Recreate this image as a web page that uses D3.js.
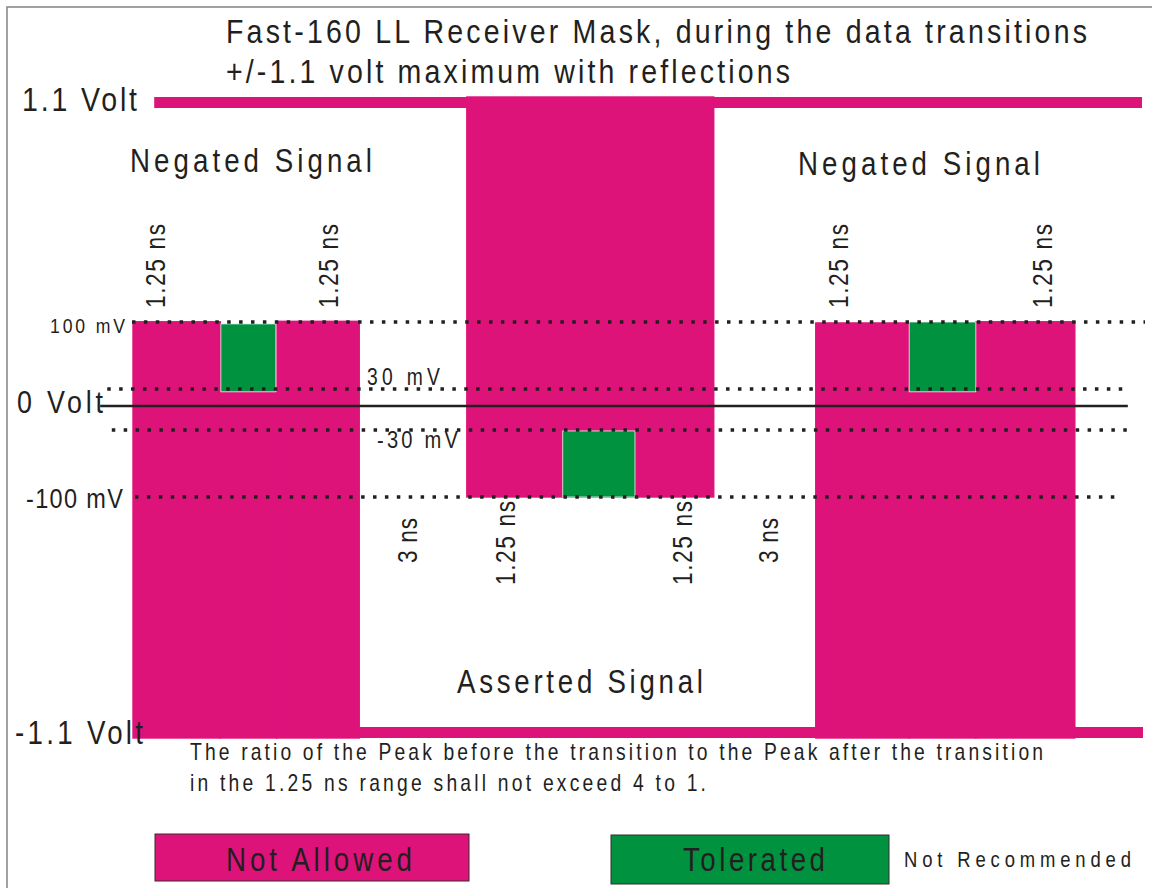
<!DOCTYPE html>
<html>
<head>
<meta charset="utf-8">
<script src="https://cdn.jsdelivr.net/npm/d3@7"></script>
<style>
  html, body { margin: 0; padding: 0; background: #fff; }
  svg { display: block; }
  text { font-family: "Liberation Sans", Arial, sans-serif; fill: #231f20; }
</style>
</head>
<body>
<div id="chart"></div>
<script>
// voltage levels of the mask (mV) - the drawing is not to scale, so the y scale is piecewise
var levels = [-1100, -100, -30, 0, 30, 100, 1100];

// not allowed (pink) areas : time in ns-ish units, voltage in mV
var notAllowed = [
  { t0: 0.00,  t1: 1.73,  v0: 101,  v1: -1100 },
  { t0: 1.73,  t1: 2.85,  v0: 25,   v1: -1100 },
  { t0: 2.85,  t1: 4.48,  v0: 103,  v1: -1100 },
  { t0: 6.61,  t1: 11.50, v0: 1100, v1: -100 },
  { t0: 13.52, t1: 15.37, v0: 99,   v1: -1100 },
  { t0: 15.37, t1: 16.69, v0: 25,   v1: -1100 },
  { t0: 16.69, t1: 18.65, v0: 101,  v1: -1100 }
];

// tolerated / not recommended (green) areas
var tolerated = [
  { t0: 1.74,  t1: 2.83,  v0: 98,  v1: 25 },
  { t0: 8.51,  t1: 9.94,  v0: -31, v1: -100 },
  { t0: 15.37, t1: 16.69, v0: 100, v1: 25 }
];

// +/-1.1 volt rails
var rails = [
  { v: 1100,  t0: 0.42, t1: 19.98 },
  { v: -1100, t0: 0.14, t1: 20.00 }
];

// dotted threshold lines
var thresholds = [
  { v: 100,  t0: -0.02, t1: 20.04 },
  { v: 30,   t0: -0.51, t1: 19.74 },
  { v: -30,  t0: -0.42, t1: 19.84 },
  { v: -100, t0: 0.04,  t1: 19.58 }
];
var zeroLine = { v: 0, t0: -0.65, t1: 19.70 };

// timing labels (rotated)
var timing = [
  { t: 0.63,  text: "1.25 ns", v: 100 },
  { t: 4.06,  text: "1.25 ns", v: 100 },
  { t: 5.62,  text: "3 ns",    v: -100 },
  { t: 7.56,  text: "1.25 ns", v: -100 },
  { t: 11.07, text: "1.25 ns", v: -100 },
  { t: 12.77, text: "3 ns",    v: -100 },
  { t: 14.16, text: "1.25 ns", v: 100 },
  { t: 18.20, text: "1.25 ns", v: 100 }
];

var width = 1152,
    height = 888;

var pink = "#de137a",
    green = "#00923f";

var x = d3.scaleLinear().domain([0, 20]).range([133, 1143]);
var y = d3.scaleLinear().domain(levels).range([738, 497, 430, 406, 389, 322, 97]);

var svg = d3.select("#chart").append("svg")
  .attr("width", width)
  .attr("height", height);

// frame (runs off the page on the right/bottom)
svg.append("rect")
  .attr("x", 7).attr("y", 7)
  .attr("width", 1200).attr("height", 1000)
  .style("fill", "none")
  .style("stroke", "#8a8a8a")
  .style("stroke-width", 1.6);

// narrow-looking text: squeeze glyphs, keep total width
var squeeze = 0.84;
function label(text, px, py, size, len, g) {
  return (g || svg).append("text")
    .attr("transform", "translate(" + px + "," + py + ") scale(" + squeeze + ",1)")
    .attr("textLength", len / squeeze)
    .attr("lengthAdjust", "spacing")
    .style("font-size", size + "px")
    .text(text);
}

// rails
var railW = 11;
svg.selectAll("rect.rail").data(rails).enter().append("rect")
  .attr("class", "rail")
  .attr("x", function(d) { return x(d.t0); })
  .attr("width", function(d) { return x(d.t1) - x(d.t0); })
  .attr("y", function(d) { return d.v > 0 ? y(d.v) : y(d.v) - railW; })
  .attr("height", railW)
  .style("fill", pink);

// not allowed blocks (stroke hides the seams between neighbours)
svg.selectAll("rect.na").data(notAllowed).enter().append("rect")
  .attr("class", "na")
  .attr("x", function(d) { return x(d.t0); })
  .attr("width", function(d) { return x(d.t1) - x(d.t0); })
  .attr("y", function(d) { return y(d.v0); })
  .attr("height", function(d) { return y(d.v1) - y(d.v0); })
  .style("fill", pink)
  .style("stroke", pink)
  .style("stroke-width", 1.4);

// tolerated blocks
svg.selectAll("rect.tol").data(tolerated).enter().append("rect")
  .attr("class", "tol")
  .attr("x", function(d) { return x(d.t0); })
  .attr("width", function(d) { return x(d.t1) - x(d.t0); })
  .attr("y", function(d) { return y(d.v0); })
  .attr("height", function(d) { return y(d.v1) - y(d.v0); })
  .style("fill", green)
  .style("stroke", "#e9f4ec")
  .style("stroke-width", 0.8);

// dotted lines
svg.selectAll("line.th").data(thresholds).enter().append("line")
  .attr("class", "th")
  .attr("x1", function(d) { return x(d.t0); })
  .attr("x2", function(d) { return x(d.t1); })
  .attr("y1", function(d) { return y(d.v); })
  .attr("y2", function(d) { return y(d.v); })
  .style("stroke", "#231f20")
  .style("stroke-width", 3.5)
  .style("stroke-dasharray", "3.5 8.4");

svg.append("line")
  .attr("x1", x(zeroLine.t0)).attr("x2", x(zeroLine.t1))
  .attr("y1", y(zeroLine.v)).attr("y2", y(zeroLine.v))
  .style("stroke", "#231f20")
  .style("stroke-width", 2.5);

// titles
label("Fast-160 LL Receiver Mask, during the data transitions", 226, 43, 34, 861);
label("+/-1.1 volt maximum with reflections", 226, 83, 34, 564);

// volt labels
label("1.1 Volt", 22, 111, 34, 115);
label("0 Volt", 17, 413, 32, 86);
label("-1.1 Volt", 15, 744, 33, 128);

// mV labels
label("100 mV", 50, y(100) + 11, 21, 75);
label("30 mV", 367, y(30) - 4, 23, 73);
label("-30 mV", 377, y(-30) + 18, 24, 81);
label("-100 mV", 26, y(-100) + 11, 28, 97);

// region names
label("Negated Signal", 130, 172, 33, 242);
label("Negated Signal", 798, 175, 33, 242);
label("Asserted Signal", 457, 693, 33, 246);

// timing labels
timing.forEach(function(d) {
  var len = d.text === "3 ns" ? 45 : 84;
  var start = d.v > 0 ? y(d.v) - 14 : y(d.v) + (d.text === "3 ns" ? 66 : 88);
  var g = svg.append("g")
    .attr("transform", "translate(" + (x(d.t)) + "," + start + ") rotate(-90)");
  label(d.text, 0, 0, 27, len, g);
});

// note
label("The ratio of the Peak before the transition to the Peak after the transition", 190, 760, 23, 853);
label("in the 1.25 ns range shall not exceed 4 to 1.", 190, 791, 23, 516);

// legend
var legend = [
  { name: "Not Allowed", color: pink,  x0: 155, x1: 469, y0: 834, y1: 881, tx: 226, tl: 186 },
  { name: "Tolerated",   color: green, x0: 611, x1: 889, y0: 835, y1: 884, tx: 683, tl: 142 }
];
legend.forEach(function(d) {
  svg.append("rect")
    .attr("x", d.x0).attr("y", d.y0)
    .attr("width", d.x1 - d.x0).attr("height", d.y1 - d.y0)
    .style("fill", d.color)
    .style("stroke", "#3a2a30")
    .style("stroke-width", 1);
  label(d.name, d.tx, 871, 33, d.tl);
});
label("Not Recommended", 904, 867, 22, 227);
</script>
</body>
</html>
